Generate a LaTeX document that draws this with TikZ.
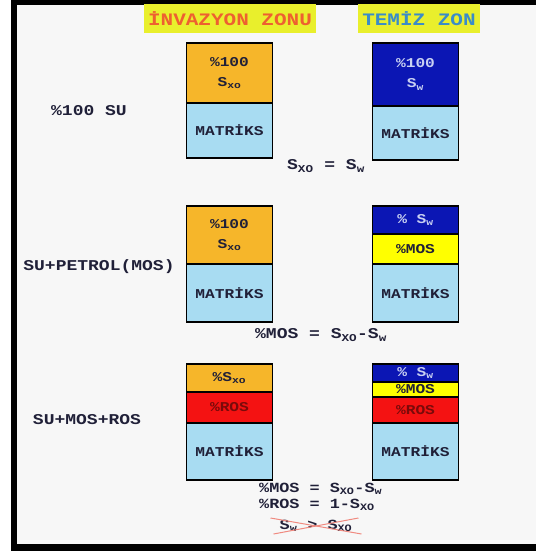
\documentclass[tikz,border=0pt]{standalone}
\usepackage{fontspec}
\setmainfont{Liberation Mono}[FakeStretch=1.2]
\usetikzlibrary{positioning}
\definecolor{gold}{HTML}{F6B62A}
\definecolor{deepblue}{HTML}{0B16B4}
\definecolor{mosyellow}{HTML}{FFFF00}
\definecolor{rosred}{HTML}{F41212}
\definecolor{matblue}{HTML}{A8DCF2}
\definecolor{headyellow}{HTML}{E9EF2C}
\definecolor{invtext}{HTML}{EE6030}
\definecolor{cleantext}{HTML}{3A8CC8}
\definecolor{inktext}{HTML}{202038}
\definecolor{paleink}{HTML}{C8D0F2}
\definecolor{rosink}{HTML}{7A0A0A}
\definecolor{crossred}{HTML}{F08A80}
\definecolor{paper}{HTML}{F7F7F7}

\begin{document}
\begin{tikzpicture}[x=1pt,y=-1pt,
 layer/.style={draw=black,line width=1.3pt,outer sep=0pt,inner sep=0pt,minimum width=86pt,align=center,text=inktext,font=\bfseries\fontsize{13.5}{20}\selectfont},
 matbox/.style={layer,fill=matblue},
 sxobox/.style={layer,fill=gold},
 swbox/.style={layer,fill=deepblue,text=paleink},
 mosbox/.style={layer,fill=mosyellow},
 rosbox/.style={layer,fill=rosred,text=rosink},
 head/.style={fill=headyellow,minimum height=29pt,font=\bfseries\fontsize{17.5}{20}\selectfont},
 case/.style={text=inktext,font=\bfseries\fontsize{15}{14}\selectfont},
 eqn/.style={case,inner sep=0pt},
 cross/.style={draw=crossred,line width=1pt}
]
\useasboundingbox (0,0) rectangle (536,554);
% frame
\fill[black] (11,0) rectangle (536,551);
\fill[paper] (17,4.5) rectangle (536,544);

% zone titles
\node[head,minimum width=172pt,text=invtext] (invhead) at (230,18.5) {İNVAZYON ZONU};
\node[head,minimum width=122pt,text=cleantext] (cleanhead) at (419,18.5) {TEMİZ ZON};

% %100 su
\node[sxobox,minimum height=60pt,anchor=north] (inv1) at (229.5,43) {\%100\\S\textsubscript{xo}};
\node[matbox,minimum height=55pt,below=0pt of inv1] (inv1m) {MATRİKS};
\node[swbox,minimum height=63pt,anchor=north] (cln1) at (415.5,43) {\%100\\S\textsubscript{w}};
\node[matbox,minimum height=54pt,below=0pt of cln1] (cln1m) {MATRİKS};
\node[case] (row1) at (89,111) {\%100 SU};
\node[eqn] (eq1) at (326,166) {S\textsubscript{XO} = S\textsubscript{w}};

% su+petrol
\node[sxobox,minimum height=58pt,anchor=north] (inv2) at (229.5,206) {\%100\\S\textsubscript{xo}};
\node[matbox,minimum height=58pt,below=0pt of inv2] (inv2m) {MATRİKS};
\node[swbox,minimum height=28pt,anchor=north] (cln2) at (415.5,206) {\% S\textsubscript{w}};
\node[mosbox,minimum height=30pt,below=0pt of cln2] (cln2o) {\%MOS};
\node[matbox,minimum height=58pt,below=0pt of cln2o] (cln2m) {MATRİKS};
\node[case] (row2) at (99,267) {SU+PETROL(MOS)};
\node[eqn] (eq2) at (321,335) {\%MOS = S\textsubscript{XO}-S\textsubscript{w}};

% su+mos+ros
\node[sxobox,minimum height=28pt,anchor=north] (inv3) at (229.5,364) {\%S\textsubscript{xo}};
\node[rosbox,minimum height=31pt,below=0pt of inv3] (inv3r) {\%ROS};
\node[matbox,minimum height=57pt,below=0pt of inv3r] (inv3m) {MATRİKS};
\node[swbox,minimum height=18pt,anchor=north] (cln3) at (415.5,364) {\% S\textsubscript{w}};
\node[mosbox,minimum height=15pt,below=0pt of cln3] (cln3o) {\%MOS};
\node[rosbox,minimum height=26pt,below=0pt of cln3o] (cln3r) {\%ROS};
\node[matbox,minimum height=57pt,below=0pt of cln3r] (cln3m) {MATRİKS};
\node[case] (row3) at (87,420) {SU+MOS+ROS};
\node[eqn,align=left,anchor=north west,font=\bfseries\fontsize{14}{16}\selectfont] (eq3) at (259,483) {\%MOS = S\textsubscript{XO}-S\textsubscript{w}\\\%ROS = 1-S\textsubscript{XO}};
\node[eqn,font=\bfseries\fontsize{14}{16}\selectfont] (eq3c) at (316,526) {S\textsubscript{w} > S\textsubscript{XO}};
\draw[cross] ([xshift=-9pt,yshift=2pt]eq3c.north west) -- ([xshift=9pt,yshift=-2pt]eq3c.south east);
\draw[cross] ([xshift=-6pt,yshift=-2pt]eq3c.south west) -- ([xshift=6pt,yshift=2pt]eq3c.north east);
\end{tikzpicture}
\end{document}
